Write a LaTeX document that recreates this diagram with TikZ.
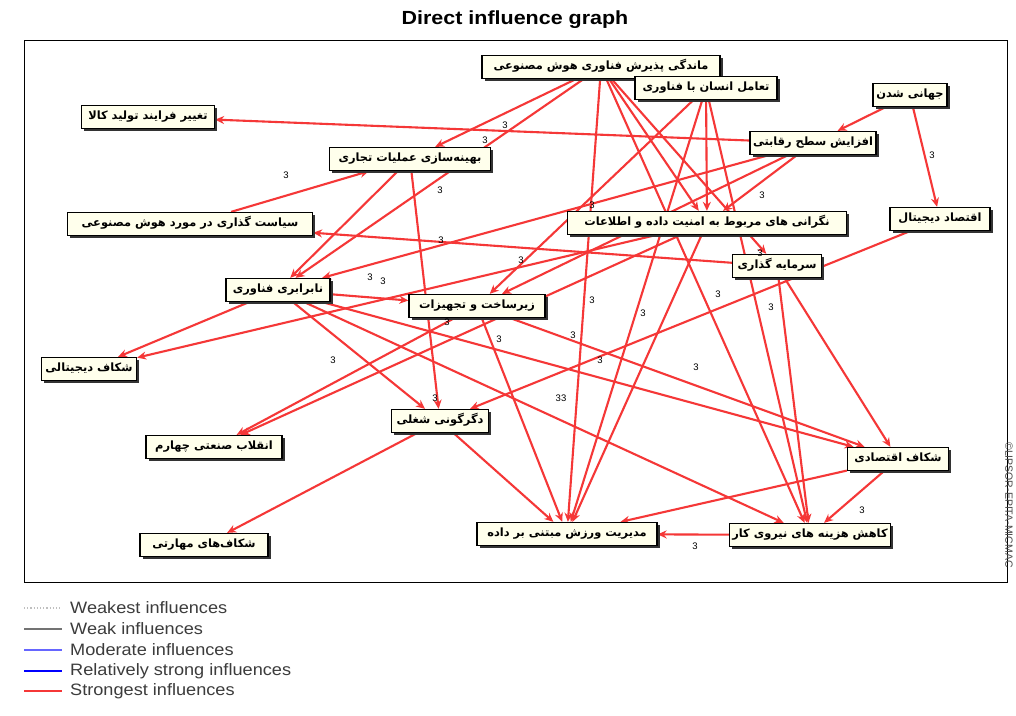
\documentclass[tikz,border=0pt]{standalone}
\usepackage{fontspec}
\setmainfont{Liberation Sans}
\newfontfamily\fa[Script=Arabic]{DejaVu Sans}
\TeXXeTstate=1
\usetikzlibrary{shadows,arrows.meta}
\pgfdeclarelayer{bg}
\pgfdeclarelayer{back}
\pgfsetlayers{back,bg,main}
\definecolor{edgered}{RGB}{245,55,55}
\definecolor{boxfill}{RGB}{255,255,236}
\definecolor{legtext}{RGB}{60,60,60}
\tikzset{
  box/.style={draw=black, line width=1.3pt, fill=boxfill, inner sep=2pt,
    minimum height=23pt, text height=8pt, text depth=3pt,
    drop shadow={shadow xshift=2.5pt, shadow yshift=-2.5pt, fill=black!80, opacity=1},
    font=\fa\bfseries\fontsize{11.4}{12.5}\selectfont},
  edge/.style={draw=edgered, line width=2.1pt, -{Stealth[length=9pt,width=8pt]}},
  val/.style={font=\fontsize{9.5}{10}\selectfont, inner sep=0pt},
  legline/.style={line width=1.2pt},
  legtxt/.style={anchor=west, text=legtext, font=\fontsize{16.5}{18}\selectfont, inner sep=0pt}
}
\begin{document}
\begin{tikzpicture}[x=1pt,y=-1pt]
\useasboundingbox (0,0) rectangle (1016,715);
\begin{pgfonlayer}{back}
\fill[white] (0,0) rectangle (1016,715);
\end{pgfonlayer}
\node[font=\bfseries\fontsize{19}{21}\selectfont] (title) at (515,20) {\scalebox{1.13}[1]{Direct influence graph}};
\draw[line width=1pt] (24,40) rectangle (1007,582);

% nodes
\node[box, minimum width=238pt] (A) at (601,67) {\beginR ماندگی پذیرش فناوری هوش مصنوعی\endR};
\node[box, minimum width=142pt] (B) at (706,88) {\beginR تعامل انسان با فناوری\endR};
\node[box, minimum width=133pt] (C) at (148,117) {\beginR تغییر فرایند تولید کالا\endR};
\node[box, minimum width=74pt] (D) at (910,95) {\beginR جهانی شدن\endR};
\node[box, minimum width=126pt] (E) at (813,143) {\beginR افزایش سطح رقابتی\endR};
\node[box, minimum width=161pt] (F) at (410,159) {\beginR بهینه‌سازی عملیات تجاری\endR};
\node[box, minimum width=245pt] (G) at (190,224) {\beginR سیاست گذاری در مورد هوش مصنوعی\endR};
\node[box, minimum width=279pt] (H) at (707,223) {\beginR نگرانی های مربوط به امنیت داده و اطلاعات\endR};
\node[box, minimum width=100pt] (I) at (940,219) {\beginR اقتصاد دیجیتال\endR};
\node[box, minimum width=89pt] (J) at (777,266) {\beginR سرمایه گذاری\endR};
\node[box, minimum width=104pt] (K) at (278,290) {\beginR نابرابری فناوری\endR};
\node[box, minimum width=136pt] (L) at (477,306) {\beginR زیرساخت و تجهیزات\endR};
\node[box, minimum width=95pt] (M) at (89,369) {\beginR شکاف دیجیتالی\endR};
\node[box, minimum width=136pt] (N) at (214,447) {\beginR انقلاب صنعتی چهارم\endR};
\node[box, minimum width=97pt] (O) at (440,421) {\beginR دگرگونی شغلی\endR};
\node[box, minimum width=101pt] (P) at (898,459) {\beginR شکاف اقتصادی\endR};
\node[box, minimum width=128pt] (Q) at (204,545) {\beginR شکاف‌های مهارتی\endR};
\node[box, minimum width=180pt] (R) at (567,534) {\beginR مدیریت ورزش مبتنی بر داده\endR};
\node[box, minimum width=161pt] (S) at (810,535) {\beginR کاهش هزینه های نیروی کار\endR};

% edges
\begin{pgfonlayer}{bg}
\draw[edge] (A) -- (F);
\draw[edge] (A) -- (K);
\draw[edge] (A) -- (H);
\draw[edge] (A) -- (R);
\draw[edge] (A) -- (S);
\draw[edge] (A) -- (J);
\draw[edge] (B) -- (H);
\draw[edge] (B) -- (L);
\draw[edge] (B) -- (R);
\draw[edge] (B) -- (S);
\draw[edge] (E) -- (C);
\draw[edge] (D) -- (E);
\draw[edge] (D) -- (I);
\draw[edge] (E) -- (H);
\draw[edge] (E) -- (K);
\draw[edge] (E) -- (L);
\draw[edge] (F) -- (K);
\draw[edge] (F) -- (O);
\draw[edge] (G) -- (F);
\draw[edge] (J) -- (G);
\draw[edge] (J) -- (P);
\draw[edge] (J) -- (S);
\draw[edge] (I) -- (O);
\draw[edge] (K) -- (L);
\draw[edge] (K) -- (M);
\draw[edge] (K) -- (O);
\draw[edge] (K) -- (P);
\draw[edge] (K) -- (S);
\draw[edge] (H) -- (M);
\draw[edge] (H) -- (N);
\draw[edge] (H) -- (R);
\draw[edge] (L) -- (N);
\draw[edge] (L) -- (R);
\draw[edge] (L) -- (P);
\draw[edge] (O) -- (R);
\draw[edge] (O) -- (Q);
\draw[edge] (P) -- (S);
\draw[edge] (P) -- (R);
\draw[edge] (S) -- (R);
\end{pgfonlayer}

% values
\foreach \p [count=\i] in {(505,125),(485,140),(286,175),(440,190),(441,240),(521,260),(592,205),(762,195),(760,253),(932,155),(370,277),(383,281),(447,322),(592,300),(643,313),(718,294),(771,307),(499,339),(573,335),(333,360),(600,360),(696,367),(435,398),(862,510),(695,546)}
  \node[val] (v\i) at \p {3};
\node[val] (v33) at (561,398) {33};

% legend
\draw[legline, black!25, dotted, line width=1.5pt] (24,608) -- (62,608);
\node[legtxt] (l1) at (70,608) {\scalebox{1.1}[1]{Weakest influences}};
\draw[legline, black!55] (24,629) -- (62,629);
\node[legtxt] (l2) at (70,629) {\scalebox{1.1}[1]{Weak influences}};
\draw[legline, blue!60] (24,650) -- (62,650);
\node[legtxt] (l3) at (70,650) {\scalebox{1.1}[1]{Moderate influences}};
\draw[legline, blue, line width=1.6pt] (24,671) -- (62,671);
\node[legtxt] (l4) at (70,671) {\scalebox{1.1}[1]{Relatively strong influences}};
\draw[legline, edgered, line width=2pt] (24,691) -- (62,691);
\node[legtxt] (l5) at (70,691) {\scalebox{1.1}[1]{Strongest influences}};

\node[rotate=-90, font=\fontsize{10.5}{11}\selectfont, text=black!70, inner sep=0pt] (copy) at (1009,505) {©LIPSOR-EPITA-MICMAC};
\end{tikzpicture}
\end{document}
